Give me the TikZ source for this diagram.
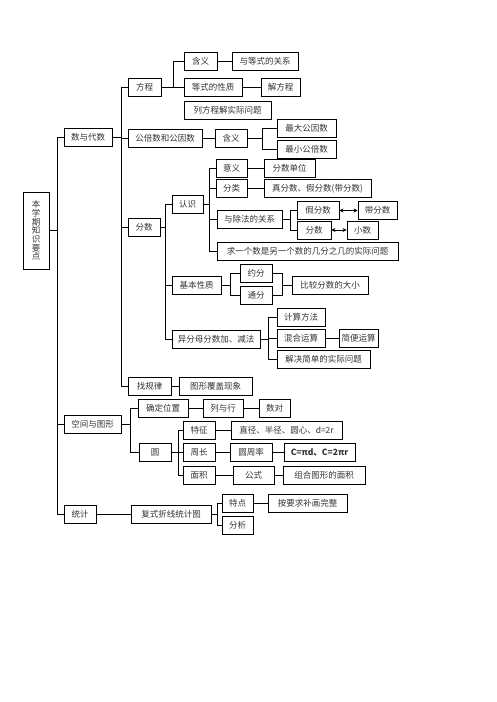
\documentclass[tikz,border=0pt]{standalone}
\usepackage{fontspec}
\newfontfamily\cjk{Noto Sans CJK SC}
\usetikzlibrary{arrows.meta}
\begin{document}
\begin{tikzpicture}[x=1pt,y=-1pt]
	\tikzstyle{box}=[draw,line width=0.8pt,rectangle,inner sep=0pt,minimum height=18pt,text=black!80,font=\cjk\fontsize{8.5pt}{8.7pt}\selectfont]
	\tikzstyle{link}=[line width=0.8pt]
	\tikzstyle{both}=[line width=1pt,{Stealth[length=4pt,width=4pt]}-{Stealth[length=4pt,width=4pt]}]
	\useasboundingbox (0,0) rectangle (496,702);
	\node[box,minimum width=26pt,minimum height=77pt,align=center] (root) at (36,230.5) {本\\学\\期\\知\\识\\要\\点};
	\node[box,minimum width=48pt] (shu) at (88,137.5) {数与代数};
	\node[box,minimum width=57pt] (kong) at (92.5,424) {空间与图形};
	\node[box,minimum width=32pt] (tongji) at (80,514) {统计};
	\node[box,minimum width=33pt] (fangcheng) at (144.5,87) {方程};
	\node[box,minimum width=74pt] (gongbei) at (165,138.5) {公倍数和公因数};
	\node[box,minimum width=32pt] (fenshu) at (144,227.5) {分数};
	\node[box,minimum width=43pt] (guilv) at (149.5,386) {找规律};
	\node[box,minimum width=33pt] (hanyi1) at (200.5,61.5) {含义};
	\node[box,minimum width=66pt] (guanxi) at (265,61.5) {与等式的关系};
	\node[box,minimum width=58pt] (xingzhi) at (213,87) {等式的性质};
	\node[box,minimum width=39pt] (jiefc) at (280.5,87) {解方程};
	\node[box,minimum width=87pt] (liefc) at (227.5,110.5) {列方程解实际问题};
	\node[box,minimum width=32pt] (hanyi2) at (231,138.5) {含义};
	\node[box,minimum width=59pt] (zuida) at (306.5,128.5) {最大公因数};
	\node[box,minimum width=59pt] (zuixiao) at (306.5,149) {最小公倍数};
	\node[box,minimum width=31pt] (renshi) at (187.5,204) {认识};
	\node[box,minimum width=31pt] (yiyi) at (231.5,168.5) {意义};
	\node[box,minimum width=51pt] (danwei) at (289.5,168.5) {分数单位};
	\node[box,minimum width=31pt] (fenlei) at (231.5,188.5) {分类};
	\node[box,minimum width=107pt] (zhenjia) at (317.5,188.5) {真分数、假分数(带分数)};
	\node[box,minimum width=65pt] (chufa) at (249.5,219.5) {与除法的关系};
	\node[box,minimum width=42pt] (jiafs) at (318,210.5) {假分数};
	\node[box,minimum width=39pt] (daifs) at (377.5,210.5) {带分数};
	\node[box,minimum width=34pt] (fs2) at (314,230) {分数};
	\node[box,minimum width=31pt] (xiaoshu) at (362.5,230) {小数};
	\node[box,minimum width=181pt] (qiuyi) at (307.5,251) {求一个数是另一个数的几分之几的实际问题};
	\node[box,minimum width=49pt] (jiben) at (196.5,285) {基本性质};
	\node[box,minimum width=32pt] (yuefen) at (256,273) {约分};
	\node[box,minimum width=32pt] (tongfen) at (256,295.5) {通分};
	\node[box,minimum width=76pt] (bijiao) at (330,285.5) {比较分数的大小};
	\node[box,minimum width=88pt] (yifenmu) at (216,339.5) {异分母分数加、减法};
	\node[box,minimum width=48pt] (jisuan) at (301,317) {计算方法};
	\node[box,minimum width=48pt] (hunhe) at (301,338) {混合运算};
	\node[box,minimum width=39pt] (jianbian) at (358.5,338) {简便运算};
	\node[box,minimum width=93pt] (jiejue) at (323.5,359.5) {解决简单的实际问题};
	\node[box,minimum width=73pt] (fugai) at (215.5,386) {图形覆盖现象};
	\node[box,minimum width=50pt] (queding) at (163,408) {确定位置};
	\node[box,minimum width=40pt] (liehang) at (223,408) {列与行};
	\node[box,minimum width=31pt] (shudui) at (274.5,408) {数对};
	\node[box,minimum width=32pt] (yuan) at (155,452.5) {圆};
	\node[box,minimum width=32pt] (tezheng) at (199,430) {特征};
	\node[box,minimum width=111pt] (zhijing) at (286.5,430) {直径、半径、圆心、d=2r};
	\node[box,minimum width=32pt] (zhouchang) at (199,452.5) {周长};
	\node[box,minimum width=42pt] (zhoulv) at (251,452.5) {圆周率};
	\node[box,minimum width=71pt] (cformula) at (319.5,452.5) {\bfseries C=πd、C=2πr};
	\node[box,minimum width=32pt] (mianji) at (199,475) {面积};
	\node[box,minimum width=41pt] (gongshi) at (253.5,475) {公式};
	\node[box,minimum width=82pt] (zuhe) at (324,475) {组合图形的面积};
	\node[box,minimum width=80pt] (fushi) at (171,514) {复式折线统计图};
	\node[box,minimum width=31pt] (tedian) at (237.5,503.5) {特点};
	\node[box,minimum width=79pt] (buhua) at (307.5,503.5) {按要求补画完整};
	\node[box,minimum width=31pt] (fenxi) at (237.5,525.5) {分析};
	\draw[link] (root.east) -- ++(8,0) |- (shu.west);
	\draw[link] (root.east) -- ++(8,0) |- (kong.west);
	\draw[link] (root.east) -- ++(8,0) |- (tongji.west);
	\draw[link] (shu.east) -- ++(9,0) |- (fangcheng.west);
	\draw[link] (shu.east) -- ++(9,0) |- (gongbei.west);
	\draw[link] (shu.east) -- ++(9,0) |- (fenshu.west);
	\draw[link] (shu.east) -- ++(9,0) |- (guilv.west);
	\draw[link] (fangcheng.east) -- ++(12,0) |- (hanyi1.west);
	\draw[link] (fangcheng.east) -- (xingzhi.west);
	\draw[link] (hanyi1.east) -- (guanxi.west);
	\draw[link] (xingzhi.east) -- (jiefc.west);
	\draw[link] (gongbei.east) -- (hanyi2.west);
	\draw[link] (hanyi2.east) -- ++(15,0) |- (zuida.west);
	\draw[link] (hanyi2.east) -- ++(15,0) |- (zuixiao.west);
	\draw[link] (fenshu.east) -- ++(5,0) |- (renshi.west);
	\draw[link] (fenshu.east) -- ++(5,0) |- (jiben.west);
	\draw[link] (fenshu.east) -- ++(5,0) |- (yifenmu.west);
	\draw[link] (renshi.east) -- ++(6,0) |- (yiyi.west);
	\draw[link] (renshi.east) -- ++(6,0) |- (fenlei.west);
	\draw[link] (renshi.east) -- ++(6,0) |- (chufa.west);
	\draw[link] (renshi.east) -- ++(6,0) |- (qiuyi.west);
	\draw[link] (yiyi.east) -- (danwei.west);
	\draw[link] (fenlei.east) -- (zhenjia.west);
	\draw[link] (chufa.east) -- ++(8,0) |- (jiafs.west);
	\draw[link] (chufa.east) -- ++(8,0) |- (fs2.west);
	\draw[both] (jiafs.east) -- (daifs.west);
	\draw[both] (fs2.east) -- (xiaoshu.west);
	\draw[link] (jiben.east) -- ++(9,0) |- (yuefen.west);
	\draw[link] (jiben.east) -- ++(9,0) |- (tongfen.west);
	\draw[link] (yuefen.east) -- ++(10,0) |- (bijiao.west);
	\draw[link] (tongfen.east) -- ++(10,0) |- (bijiao.west);
	\draw[link] (yifenmu.east) -- ++(8,0) |- (jisuan.west);
	\draw[link] (yifenmu.east) -- ++(8,0) |- (hunhe.west);
	\draw[link] (yifenmu.east) -- ++(8,0) |- (jiejue.west);
	\draw[link] (hunhe.east) -- (jianbian.west);
	\draw[link] (guilv.east) -- (fugai.west);
	\draw[link] (kong.east) -- ++(9,0) |- (queding.west);
	\draw[link] (kong.east) -- ++(9,0) |- (yuan.west);
	\draw[link] (queding.east) -- (liehang.west);
	\draw[link] (liehang.east) -- (shudui.west);
	\draw[link] (yuan.east) -- ++(7,0) |- (tezheng.west);
	\draw[link] (yuan.east) -- ++(7,0) |- (zhouchang.west);
	\draw[link] (yuan.east) -- ++(7,0) |- (mianji.west);
	\draw[link] (tezheng.east) -- (zhijing.west);
	\draw[link] (zhouchang.east) -- (zhoulv.west);
	\draw[link] (zhoulv.east) -- (cformula.west);
	\draw[link] (mianji.east) -- (gongshi.west);
	\draw[link] (gongshi.east) -- (zuhe.west);
	\draw[link] (tongji.east) -- (fushi.west);
	\draw[link] (fushi.east) -- ++(6,0) |- (tedian.west);
	\draw[link] (fushi.east) -- ++(6,0) |- (fenxi.west);
	\draw[link] (tedian.east) -- (buhua.west);
\end{tikzpicture}
\end{document}
